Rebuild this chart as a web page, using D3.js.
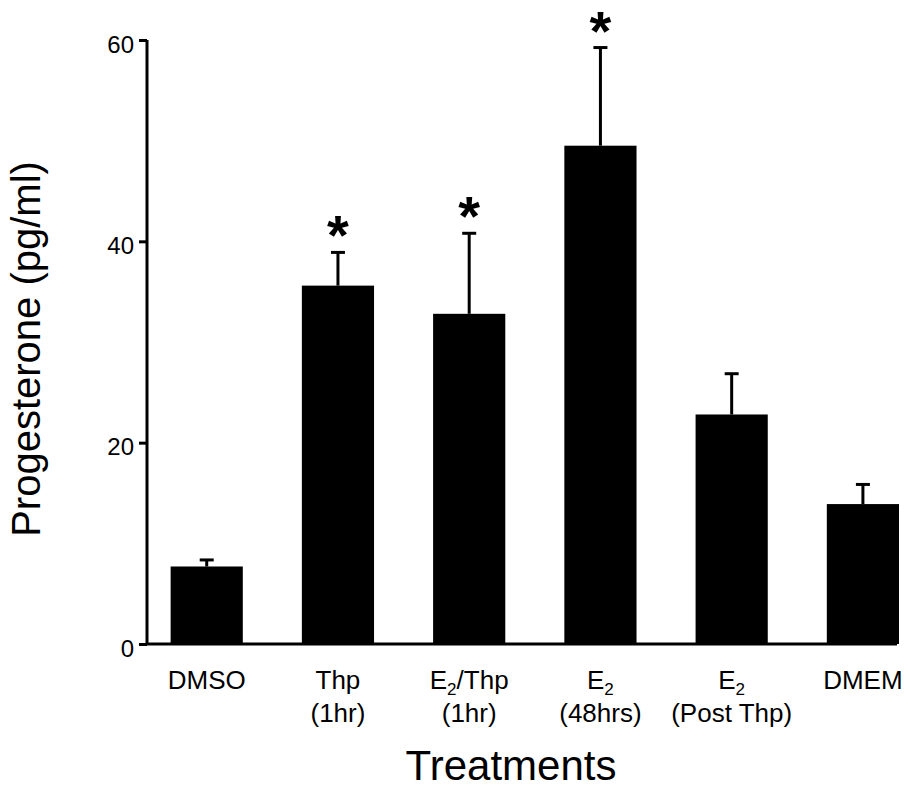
<!DOCTYPE html>
<html>
<head>
<meta charset="utf-8">
<script src="https://cdn.jsdelivr.net/npm/d3@7"></script>
<style>
  html, body { margin: 0; padding: 0; background: #fff; }
  svg { display: block; }
  text { font-family: "Liberation Sans", Arial, Helvetica, sans-serif; fill: #000; }
</style>
</head>
<body>
<script>
// ---- data ----
const categories = ["DMSO", "Thp (1hr)", "E2/Thp (1hr)", "E2 (48hrs)", "E2 (Post Thp)", "DMEM"];
const labelLine1 = ["DMSO", "Thp", "E_2/Thp", "E_2", "E_2", "DMEM"];
const labelLine2 = ["", "(1hr)", "(1hr)", "(48hrs)", "(Post Thp)", ""];
const means = [7.7, 35.6, 32.8, 49.5, 22.8, 13.9];
const errors = [0.65, 3.3, 8.0, 9.75, 4.05, 1.95];
const significant = [false, true, true, true, false, false];
const yTicks = [0, 20, 40, 60];
const yTitle = "Progesterone (pg/ml)";
const xTitle = "Treatments";

// ---- layout ----
const W = 904, H = 791;
const svg = d3.select("body").append("svg").attr("width", W).attr("height", H);

const x = d3.scaleBand().domain(categories).range([147, 899])
  .paddingInner(0.45).paddingOuter(0.09).align(1);
const y = d3.scaleLinear().domain([0, 60]).range([644, 40]);

// bars
svg.append("g").selectAll("rect").data(categories).join("rect")
  .attr("x", d => x(d))
  .attr("y", (d, i) => y(means[i]))
  .attr("width", x.bandwidth())
  .attr("height", (d, i) => y(0) - y(means[i]))
  .attr("fill", "#000");

// error bars (upper only)
const eb = svg.append("g").attr("stroke", "#000").attr("stroke-width", 3);
categories.forEach((c, i) => {
  const cx = x(c) + x.bandwidth() / 2;
  eb.append("line").attr("x1", cx).attr("x2", cx)
    .attr("y1", y(means[i])).attr("y2", y(means[i] + errors[i]));
  eb.append("line").attr("x1", cx - 7).attr("x2", cx + 7)
    .attr("y1", y(means[i] + errors[i])).attr("y2", y(means[i] + errors[i]));
});

// significance stars
svg.append("g").selectAll("text").data(categories.filter((c, i) => significant[i])).join("text")
  .attr("x", d => x(d) + x.bandwidth() / 2)
  .attr("y", d => { const i = categories.indexOf(d); return y(means[i] + errors[i]) + 2; })
  .attr("text-anchor", "middle")
  .attr("font-size", 56)
  .attr("font-weight", "bold")
  .text("*");

// y axis
const yAxis = d3.axisLeft(y).tickValues(yTicks).tickSize(8).tickPadding(5);
const gy = svg.append("g").attr("transform", "translate(147,0)").call(yAxis);
gy.select(".domain").attr("stroke", "#000").attr("stroke-width", 3).attr("d", `M0,${y(60)}V${y(0)}`);
gy.selectAll(".tick line").attr("stroke", "#000").attr("stroke-width", 3);
gy.selectAll(".tick text").attr("font-size", 24).attr("font-family", "Liberation Sans, Arial, sans-serif")
  .attr("dy", "0.5em").attr("fill", "#000");

// x axis baseline
const xAxis = d3.axisBottom(x).tickSize(0).tickFormat("");
const gx = svg.append("g").attr("transform", `translate(0,${y(0)})`).call(xAxis);
gx.select(".domain").attr("stroke", "#000").attr("stroke-width", 3).attr("d", "M146,0H897");

// category labels
const lab = svg.append("g").attr("font-size", 26).attr("text-anchor", "middle");
categories.forEach((c, i) => {
  const cx = x(c) + x.bandwidth() / 2;
  const t1 = lab.append("text").attr("x", cx).attr("y", 689);
  const parts = labelLine1[i].split("_");
  t1.append("tspan").text(parts[0]);
  if (parts.length > 1) {
    t1.append("tspan").attr("font-size", 17).attr("dy", 6).text(parts[1][0]);
    const rest = parts[1].slice(1);
    if (rest) t1.append("tspan").attr("dy", -6).text(rest);
  }
  if (labelLine2[i]) {
    lab.append("text").attr("x", cx).attr("y", 722).text(labelLine2[i]);
  }
});

// axis titles
svg.append("text").attr("x", 511).attr("y", 780).attr("text-anchor", "middle")
  .attr("font-size", 42).text(xTitle);
svg.append("text").attr("transform", "translate(40,349) rotate(-90)")
  .attr("text-anchor", "middle").attr("font-size", 40).text(yTitle);
</script>
</body>
</html>
